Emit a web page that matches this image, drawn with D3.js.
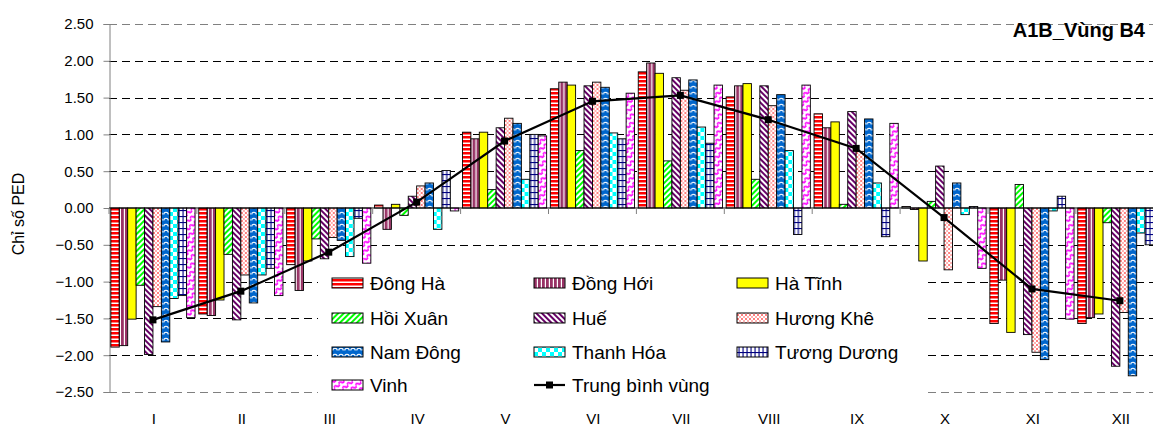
<!DOCTYPE html>
<html>
<head>
<meta charset="utf-8">
<script src="https://cdnjs.cloudflare.com/ajax/libs/d3/7.8.5/d3.min.js"></script>
<style>
  body { margin: 0; background: #fff; }
  text { font-family: "Liberation Sans", Arial, sans-serif; fill: #000; }
</style>
</head>
<body>
<div id="chart"></div>
<script>
const WIDTH = 1153, HEIGHT = 429;
const PLOT_LEFT = 109, BAND = 87.9; // category width
const Y_TOP = 24, Y_BOT = 392;

const months = ["I", "II", "III", "IV", "V", "VI", "VII", "VIII", "IX", "X", "XI", "XII"];
const stations = ["Đông Hà", "Đồng Hới", "Hà Tĩnh", "Hồi Xuân", "Huế", "Hương Khê",
  "Nam Đông", "Thanh Hóa", "Tương Dương", "Vinh"];
const yTicks = [2.5, 2, 1.5, 1, 0.5, 0, -0.5, -1, -1.5, -2, -2.5];

// values, one array per station (I..XII)
const dongHa     = [-1.89, -1.44, -0.77, 0.04, 1.03, 1.62, 1.85, 1.51, 1.28, 0.02, -1.57, -1.57];
const dongHoi    = [-1.87, -1.46, -1.12, -0.29, 0.94, 1.71, 1.97, 1.66, 1.09, -0.02, -0.98, -1.49];
const haTinh     = [-1.51, -1.25, -0.72, 0.05, 1.03, 1.67, 1.83, 1.69, 1.17, -0.72, -1.69, -1.44];
const hoiXuan    = [-1.05, -0.63, -0.42, -0.10, 0.25, 0.78, 0.64, 0.39, 0.05, 0.09, 0.32, -0.20];
const hue        = [-1.99, -1.52, -0.69, 0.16, 1.09, 1.66, 1.77, 1.66, 1.31, 0.57, -1.72, -2.15];
const huongKhe   = [-1.34, -0.91, -0.40, 0.30, 1.22, 1.71, 1.60, 1.39, 0.77, -0.84, -1.96, -1.42];
const namDong    = [-1.82, -1.29, -0.44, 0.34, 1.15, 1.64, 1.74, 1.54, 1.21, 0.34, -2.06, -2.28];
const thanhHoa   = [-1.23, -0.91, -0.66, -0.29, 0.39, 1.02, 1.10, 0.78, 0.34, -0.09, -0.04, -0.34];
const tuongDuong = [-1.19, -0.82, -0.14, 0.51, 1.00, 0.94, 0.88, -0.36, -0.39, 0.02, 0.16, -0.50];
const vinh       = [-1.49, -1.19, -0.75, -0.04, 0.98, 1.56, 1.67, 1.67, 1.15, -0.82, -1.51, -1.15];
const trungBinh  = [-1.52, -1.13, -0.60, 0.08, 0.91, 1.45, 1.53, 1.20, 0.81, -0.13, -1.10, -1.26];

const series = [dongHa, dongHoi, haTinh, hoiXuan, hue, huongKhe, namDong, thanhHoa, tuongDuong, vinh];

const svg = d3.select("#chart").append("svg")
  .attr("width", WIDTH).attr("height", HEIGHT);

// ---- patterns ----
const defs = svg.append("defs");
function pat(id, w, h, transform) {
  const p = defs.append("pattern").attr("id", id)
    .attr("patternUnits", "userSpaceOnUse").attr("width", w).attr("height", h);
  if (transform) p.attr("patternTransform", transform);
  return p;
}
let p;
p = pat("p0", 4, 4); p.append("rect").attr("width", 4).attr("height", 4).attr("fill", "#fff");
p.append("rect").attr("width", 4).attr("height", 2.5).attr("fill", "#ff0000");
p = pat("p1", 4, 4); p.append("rect").attr("width", 4).attr("height", 4).attr("fill", "#fff");
p.append("rect").attr("width", 2.8).attr("height", 4).attr("fill", "#993366");
p = pat("p2", 4, 4); p.append("rect").attr("width", 4).attr("height", 4).attr("fill", "#ffff00");
p = pat("p3", 4, 4, "rotate(45)"); p.append("rect").attr("width", 4).attr("height", 4).attr("fill", "#fff");
p.append("rect").attr("width", 2).attr("height", 4).attr("fill", "#00ff00");
p = pat("p4", 4, 4, "rotate(-45)"); p.append("rect").attr("width", 4).attr("height", 4).attr("fill", "#fff");
p.append("rect").attr("width", 2).attr("height", 4).attr("fill", "#660066");
p = pat("p5", 4, 4); p.append("rect").attr("width", 4).attr("height", 4).attr("fill", "#fff");
p.append("rect").attr("width", 2).attr("height", 2).attr("fill", "#ff8080");
p.append("rect").attr("x", 2).attr("y", 2).attr("width", 2).attr("height", 2).attr("fill", "#ffb0b0");
p = pat("p6", 6, 6); p.append("rect").attr("width", 6).attr("height", 6).attr("fill", "#0066cc");
p.append("path").attr("d", "M0.8,4.5 A2.2,2.2 0 0,1 5.2,4.5").attr("fill", "none")
  .attr("stroke", "#fff").attr("stroke-width", 1.1);
p = pat("p7", 8, 8); p.append("rect").attr("width", 8).attr("height", 8).attr("fill", "#fff");
p.append("rect").attr("width", 4).attr("height", 4).attr("fill", "#00ffff");
p.append("rect").attr("x", 4).attr("y", 4).attr("width", 4).attr("height", 4).attr("fill", "#00ffff");
p = pat("p8", 8, 6); p.append("rect").attr("width", 8).attr("height", 6).attr("fill", "#fff");
p.append("rect").attr("width", 8).attr("height", 1.1).attr("fill", "#000080");
p.append("rect").attr("x", 1.5).attr("width", 1.1).attr("height", 6).attr("fill", "#000080");
p.append("rect").attr("x", 5.5).attr("width", 1.1).attr("height", 6).attr("fill", "#000080");
p = pat("p9", 6, 6, "rotate(-40)"); p.append("rect").attr("width", 6).attr("height", 6).attr("fill", "#fff");
p.append("path").attr("d", "M0,4 Q1.5,1 3,4 T6,4").attr("fill", "none")
  .attr("stroke", "#ff00ff").attr("stroke-width", 1.7);

// ---- scales ----
const x = d3.scaleBand().domain(months)
  .range([PLOT_LEFT, PLOT_LEFT + BAND * months.length]).paddingInner(0).paddingOuter(0);
const inner = d3.scaleBand().domain(d3.range(stations.length))
  .range([0, BAND]).paddingOuter(0.22);
const y = d3.scaleLinear().domain([-2.5, 2.5]).range([Y_BOT, Y_TOP]);

// ---- grid ----
svg.append("g").selectAll("line").data(yTicks.filter(d => d !== 0)).join("line")
  .attr("x1", PLOT_LEFT).attr("x2", WIDTH)
  .attr("y1", d => Math.round(y(d)) + 0.5).attr("y2", d => Math.round(y(d)) + 0.5)
  .attr("stroke", d => Math.abs(d) === 2.5 ? "#808080" : "#000")
  .attr("stroke-width", 1).attr("stroke-dasharray", "8,5");

// ---- y axis ----
const yAxis = svg.append("g").attr("transform", `translate(${PLOT_LEFT + 0.5},0)`)
  .call(d3.axisLeft(y).tickValues(yTicks).tickFormat(d3.format(".2f")).tickSize(6).tickPadding(10));
yAxis.select(".domain").attr("stroke", "#808080");
yAxis.selectAll(".tick line").attr("stroke", "#808080");
yAxis.selectAll("text").attr("font-size", 15).attr("font-family", "Liberation Sans, Arial, sans-serif");

svg.append("text").attr("transform", `translate(24,214) rotate(-90)`)
  .attr("text-anchor", "middle").attr("font-size", 16).text("Chỉ số PED");

// ---- bars ----
const groups = svg.append("g").selectAll("g").data(months).join("g")
  .attr("transform", d => `translate(${x(d)},0)`);
groups.selectAll("rect").data((m, mi) => series.map((s, si) => ({ si, v: s[mi] }))).join("rect")
  .attr("x", d => inner(d.si))
  .attr("width", inner.bandwidth())
  .attr("y", d => y(Math.max(0, d.v)))
  .attr("height", d => Math.abs(y(d.v) - y(0)))
  .attr("fill", d => `url(#p${d.si})`)
  .attr("stroke", "#000").attr("stroke-width", 0.9);

// ---- x axis at zero ----
const xAxis = svg.append("g").attr("transform", `translate(0,${y(0)})`);
xAxis.append("line").attr("x1", PLOT_LEFT).attr("x2", WIDTH).attr("stroke", "#000").attr("stroke-width", 1.2);
xAxis.selectAll("line.tk").data(d3.range(months.length + 1)).join("line").attr("class", "tk")
  .attr("x1", i => PLOT_LEFT + i * BAND).attr("x2", i => PLOT_LEFT + i * BAND)
  .attr("y1", 0).attr("y2", 6).attr("stroke", "#808080");

svg.append("g").selectAll("text").data(months).join("text")
  .attr("x", d => x(d) + x.bandwidth() / 2 + 1).attr("y", 424)
  .attr("text-anchor", "middle").attr("font-size", 15).text(d => d);

// ---- average line ----
const lineData = months.map((m, i) => ({ m, v: trungBinh[i] }));
svg.append("path").datum(lineData)
  .attr("d", d3.line().x(d => x(d.m) + x.bandwidth() / 2).y(d => y(d.v)))
  .attr("fill", "none").attr("stroke", "#000").attr("stroke-width", 2.2);
svg.append("g").selectAll("rect").data(lineData).join("rect")
  .attr("x", d => x(d.m) + x.bandwidth() / 2 - 3.5).attr("y", d => y(d.v) - 3.5)
  .attr("width", 7).attr("height", 7).attr("fill", "#000");

// ---- legend ----
const legend = svg.append("g");
legend.append("rect").attr("x", 318).attr("y", 266).attr("width", 608).attr("height", 135).attr("fill", "#fff");
const colX = [332, 534, 737], rowY = [283, 318, 352, 385];
const items = stations.map((s, i) => ({ name: s, idx: i })).concat([{ name: "Trung bình vùng", idx: -1 }]);
const li = legend.selectAll("g").data(items).join("g")
  .attr("transform", (d, i) => `translate(${colX[i % 3]},${rowY[Math.floor(i / 3)]})`);
li.filter(d => d.idx >= 0).append("rect")
  .attr("x", 0).attr("y", -5).attr("width", 31).attr("height", 10)
  .attr("fill", d => `url(#p${d.idx})`).attr("stroke", "#000").attr("stroke-width", 1);
const avgItem = li.filter(d => d.idx < 0);
avgItem.append("line").attr("x1", 0).attr("x2", 31).attr("stroke", "#000").attr("stroke-width", 2.2);
avgItem.append("rect").attr("x", 12).attr("y", -3.5).attr("width", 7).attr("height", 7).attr("fill", "#000");
li.append("text").attr("x", 38).attr("dy", "0.35em").attr("font-size", 19).text(d => d.name);

// ---- title ----
svg.append("text").attr("x", 1145).attr("y", 37).attr("text-anchor", "end")
  .attr("font-size", 20).attr("font-weight", "bold").text("A1B_Vùng B4");
</script>
</body>
</html>
